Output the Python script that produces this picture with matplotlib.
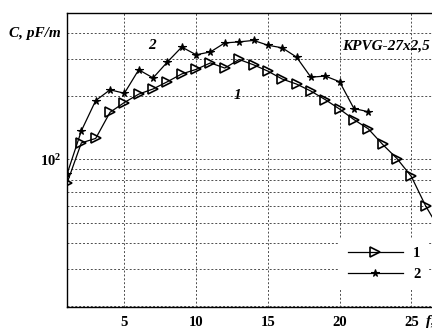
import matplotlib
matplotlib.use("Agg")
import matplotlib.pyplot as plt
from matplotlib.ticker import FixedLocator, FixedFormatter, LogLocator, NullFormatter

plt.rcParams["font.family"] = ["Liberation Serif", "DejaVu Serif"]
plt.rcParams["font.weight"] = "bold"
plt.rcParams["mathtext.fontset"] = "custom"
plt.rcParams["mathtext.rm"] = "Liberation Serif:bold"
plt.rcParams["mathtext.bf"] = "Liberation Serif:bold"

# curve 1 (triangles)
x1 = [1, 2, 3, 4, 5, 6, 7, 8, 9, 10, 11, 12, 13, 14, 15, 16, 17, 18, 19, 20, 21, 22, 23, 24, 25, 26, 27]
c1 = [77, 120, 126, 168, 187, 205, 217, 235, 256, 269, 289, 273, 300, 283, 264, 242, 229, 212, 193, 174,
      155, 140, 118, 101, 83, 60, 46]
# curve 2 (stars)
x2 = [1, 2, 3, 4, 5, 6, 7, 8, 9, 10, 11, 12, 13, 14, 15, 16, 17, 18, 19, 20, 21, 22]
c2 = [85, 137, 191, 215, 207, 268, 245, 292, 344, 316, 326, 360, 364, 370, 351, 341, 308, 247, 250, 235,
      175, 169]

xticks = [5, 10, 15, 20, 25]
legend_labels = ["1", "2"]

fig = plt.figure(figsize=(4.32, 3.29), dpi=100)
ax = fig.add_axes([67 / 432, 1 - 307.3 / 329, 373 / 432, (307.3 - 13) / 329])

ax.plot(x1, c1, color="black", lw=0.9, marker=">", ms=7.5, mfc="none", mec="black", mew=1.2,
        label=legend_labels[0])
ax.plot(x2, c2, color="black", lw=0.9, marker="*", ms=5.5, mfc="black", mec="black", mew=0.8,
        label=legend_labels[1])

ax.set_yscale("log")
ax.set_xlim(1, 27)
ax.set_ylim(19.7, 500)

ax.xaxis.set_major_locator(FixedLocator(xticks))
ax.set_xticklabels([str(t) for t in xticks], fontsize=10.5, fontweight="bold")
ax.yaxis.set_major_locator(FixedLocator([100]))
ax.yaxis.set_major_formatter(FixedFormatter([r"$\mathbf{10^{2}}$"]))
ax.yaxis.set_minor_locator(LogLocator(base=10, subs=range(2, 10)))
ax.yaxis.set_minor_formatter(NullFormatter())
ax.tick_params(axis="both", which="both", length=0, labelsize=10.5)
ax.tick_params(axis="y", pad=4)
ax.tick_params(axis="x", pad=6)

grid_kw = dict(color="0.3", lw=0.7, linestyle=(0, (2, 2)))
ax.grid(True, which="major", axis="x", **grid_kw)
ax.grid(True, which="both", axis="y", **grid_kw)
ax.set_axisbelow(True)

for s in ["left", "bottom", "top"]:
    ax.spines[s].set_linewidth(1.0)

fig.text(9 / 432, 1 - 33 / 329, "C, pF/m", fontsize=11, fontweight="bold", fontstyle="italic",
         va="center", ha="left")
ax.text(6.9, 349, "2", fontsize=11, fontweight="bold", fontstyle="italic", ha="center", va="center")
ax.text(12.9, 203, "1", fontsize=11, fontweight="bold", fontstyle="italic", ha="center", va="center")
ax.text(20.2, 349, "KPVG-27x2,5", fontsize=11, fontweight="bold", fontstyle="italic",
        ha="left", va="center")
fig.text(426 / 432, 1 - 322 / 329, "f, MHz", fontsize=11, fontweight="bold", fontstyle="italic",
         va="center", ha="left")

leg = ax.legend(loc="center", bbox_to_anchor=(384 / 432, 1 - 264 / 329), bbox_transform=fig.transFigure,
                fontsize=10.5, handlelength=3.8, handletextpad=0.7, labelspacing=0.5,
                frameon=True, framealpha=1, facecolor="white", edgecolor="none", fancybox=False,
                borderpad=0.6)

fig.savefig("out.png", dpi=100)
